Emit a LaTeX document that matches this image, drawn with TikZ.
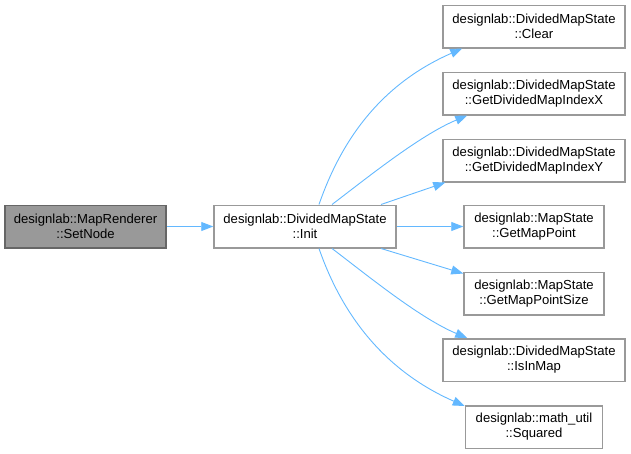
\documentclass[tikz,border=0pt]{standalone}
\usepackage{fontspec}
\setmainfont{Liberation Sans}
\usetikzlibrary{arrows.meta}
\definecolor{edgeblue}{HTML}{63B8FF}
\definecolor{boxborder}{HTML}{999999}
\definecolor{curborder}{HTML}{666666}
\definecolor{boxfill}{HTML}{999999}
\tikzset{
  fn/.style={draw=boxborder, line width=1.5pt, fill=white, minimum height=42.5pt,
    inner sep=0pt, align=center, font=\fontsize{13.1}{15}\selectfont},
  cur/.style={fn, fill=boxfill, draw=curborder},
  call/.style={draw=edgeblue, line width=0.9pt,
    -{Triangle[length=12pt,width=9pt]}},
}
\begin{document}
\begin{tikzpicture}[x=1pt,y=-1pt]
\useasboundingbox (0,0) rectangle (631,453);
\node[cur, minimum width=161pt] (setnode) at (85.5,226.5) {designlab::MapRenderer\\::SetNode};
\node[fn, minimum width=182pt] (init) at (305,226.5) {designlab::DividedMapState\\::Init};
\node[fn, minimum width=182pt] (clear) at (534,26.5) {designlab::DividedMapState\\::Clear};
\node[fn, minimum width=182pt] (idxx) at (534,93.5) {designlab::DividedMapState\\::GetDividedMapIndexX};
\node[fn, minimum width=182pt] (idxy) at (534,160.5) {designlab::DividedMapState\\::GetDividedMapIndexY};
\node[fn, minimum width=140pt] (gmp) at (534,226.5) {designlab::MapState\\::GetMapPoint};
\node[fn, minimum width=140pt] (gmps) at (534,293.5) {designlab::MapState\\::GetMapPointSize};
\node[fn, minimum width=182pt] (isin) at (534,360) {designlab::DividedMapState\\::IsInMap};
\node[fn, minimum width=137pt] (sq) at (534,427) {designlab::math\_util\\::Squared};

\draw[call] (setnode.east) -- (init.west);
\draw[call] ([xshift=14pt]init.north) .. controls +(26,-75) and +(-73,32) .. ([xshift=20pt]clear.south west);
\draw[call] ([xshift=27pt]init.north) .. controls +(33,-25) and +(-48,20) .. ([xshift=25pt]idxx.south west);
\draw[call] ([xshift=76pt]init.north) -- ([xshift=3pt]idxy.south west);
\draw[call] (init.east) -- (gmp.west);
\draw[call] ([xshift=76pt]init.south) -- ([yshift=-2pt]gmps.north west);
\draw[call] ([xshift=27pt]init.south) .. controls +(33,25) and +(-48,-20) .. ([xshift=25pt]isin.north west);
\draw[call] ([xshift=14pt]init.south) .. controls +(26,75) and +(-73,-32) .. ([yshift=-1pt]sq.north west);
\end{tikzpicture}
\end{document}
